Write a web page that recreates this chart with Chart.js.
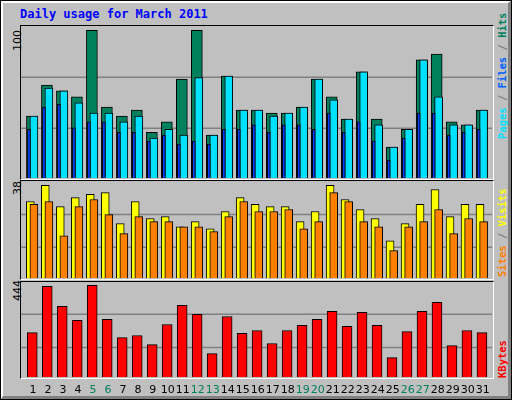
<!DOCTYPE html>
<html><head><meta charset="utf-8">
<script src="https://cdn.jsdelivr.net/npm/chart.js@4"></script>
<style>
body{margin:0;}
#root{position:relative;width:512px;height:400px;background:#c0c0c0;box-sizing:border-box;border:1px solid #000;overflow:hidden;}
#bev{position:absolute;left:0;top:0;width:510px;height:398px;box-sizing:border-box;border-top:2px solid #fff;border-left:2px solid #fff;border-right:3px solid #808080;border-bottom:3px solid #808080;}
.pane{position:absolute;box-sizing:border-box;border-left:1px solid #000;border-top:1px solid #000;border-right:1px solid #fff;border-bottom:1px solid #fff;}
.t{position:absolute;white-space:nowrap;}
.rot{position:absolute;white-space:nowrap;transform-origin:0 0;transform:rotate(-90deg);}
.rl{font:bold 10.5px "DejaVu Sans Mono",monospace;}
.ll{font:11px "DejaVu Sans",sans-serif;color:#000;}
canvas{position:absolute;}
</style></head><body>
<div id="root">
<div id="bev"></div>
<div class="t" style="left:19px;top:6px;font:bold 12px 'DejaVu Sans Mono',monospace;color:#0000ff;">Daily usage for March 2011</div>
<div class="pane" style="left:19px;top:24px;width:474px;height:155px;"></div>
<div class="pane" style="left:19px;top:179px;width:474px;height:100px;"></div>
<div class="pane" style="left:19px;top:280px;width:474px;height:98px;"></div>
<div class="rot ll" style="left:10px;top:50px;">100</div>
<div class="rot ll" style="left:10px;top:194px;">38</div>
<div class="rot ll" style="left:10px;top:300px;">444</div>
<div class="rot rl" style="left:495px;top:138px;"><span style="color:#00e0ff">Pages</span><span style="color:#808080"> / </span><span style="color:#0060ff">Files</span><span style="color:#808080"> / </span><span style="color:#00805c">Hits</span></div>
<div class="rot rl" style="left:495px;top:276px;"><span style="color:#ff8000">Sites</span><span style="color:#808080"> / </span><span style="color:#ffff00">Visits</span></div>
<div class="rot rl" style="left:495px;top:377px;"><span style="color:#ff0000">KBytes</span></div>
<canvas id="c1" style="left:20px;top:25px;" width="471" height="152"></canvas>
<canvas id="c2" style="left:20px;top:180px;" width="471" height="97"></canvas>
<canvas id="c3" style="left:0px;top:281px;" width="512" height="119"></canvas>
</div>
<script>
const days=[1,2,3,4,5,6,7,8,9,10,11,12,13,14,15,16,17,18,19,20,21,22,23,24,25,26,27,28,29,30,31];
const weekend=[5,6,12,13,19,20,26,27];
const hits=[42,63,59,55,100,48,42,46,31,38,67,100,29,69,46,46,44,44,48,67,55,40,72,40,21,33,80,84,38,36,46];
const files=[42,61,59,51,44,44,38,42,27,33,29,68,29,69,46,46,42,44,48,67,53,40,72,36,21,33,80,55,36,36,46];
const pages=[33,48,50,34,38,38,31,31,25,29,23,25,23,33,33,36,31,36,36,33,44,31,38,25,12,27,44,44,29,31,33];
const sites=[31.4,38,29.3,33,34.3,35,22.3,31.4,24.4,25.2,21,23.1,20.2,27.3,33,30.2,29.3,29.3,23.1,27.3,38,32.2,28.1,24.4,15.3,22.3,30.2,36.3,25.2,30.2,30.2];
const visits=[30.2,31.4,17.3,29.3,32.2,26,18.2,25.2,23.1,23.1,21,21,19,25.2,31.4,27.3,27.3,28.1,20.2,23.1,35,31.4,23.1,21,11.2,21,23.1,28.1,18.2,24.4,23.1];
const kbytes=[215,439,342,274,444,279,191,201,157,254,347,303,113,293,211,225,162,225,250,279,318,245,313,250,94,220,318,361,152,225,215];

const pts=(arr,sh)=>arr.map((v,i)=>({x:days[i]+sh,y:v}));
function grid(lines){return{id:'g',beforeDatasetsDraw(ch){const c=ch.ctx,a=ch.chartArea,y=ch.scales.y;c.save();c.strokeStyle='#808080';c.lineWidth=1.5;lines.forEach(v=>{const p=y.getPixelForValue(v);c.beginPath();c.moveTo(a.left,p);c.lineTo(a.right,p);c.stroke();});c.restore();}};}
function ds(data,sh,col,w,order){return{data:pts(data,sh),backgroundColor:col,borderColor:'#000',borderWidth:1,barThickness:w,order:order,grouped:false,borderSkipped:'bottom'};}
function opts(max,pad){return{responsive:false,animation:false,events:[],layout:{padding:pad||0},
 plugins:{legend:{display:false},tooltip:{enabled:false}},
 scales:{x:{type:'linear',min:0.27,max:31.69,offset:false,grid:{offset:false},display:false},y:{min:0,max:max,display:false}}};}

new Chart(document.getElementById('c1'),{type:'bar',data:{datasets:[
 ds(pages,-0.2,'#0040ff',3,0),ds(files,0.13,'#00e0ff',8,1),ds(hits,0,'#00805c',11,2)]},
 options:opts(103),plugins:[grid([33.7,68.2])]});
new Chart(document.getElementById('c2'),{type:'bar',data:{datasets:[
 ds(visits,0.13,'#ff8000',8,0),ds(sites,-0.11,'#ffff00',8,1)]},
 options:opts(39.8),plugins:[grid([12.6,26.1])]});
new Chart(document.getElementById('c3'),{type:'bar',data:{datasets:[
 ds(kbytes,0.02,'#ff0000',10,0)]},
 options:opts(460,{left:20,right:21,top:0,bottom:24}),
 plugins:[grid([143,303.6]),{id:'xl',afterDraw(ch){const c=ch.ctx,x=ch.scales.x;c.save();c.font='11px "DejaVu Sans",sans-serif';c.textAlign='center';c.textBaseline='middle';
 days.forEach(d=>{c.fillStyle=weekend.includes(d)?'#00805c':'#000';c.fillText(String(d),x.getPixelForValue(d)+1,ch.chartArea.bottom+13);});c.restore();}}]});
</script>
</body></html>
